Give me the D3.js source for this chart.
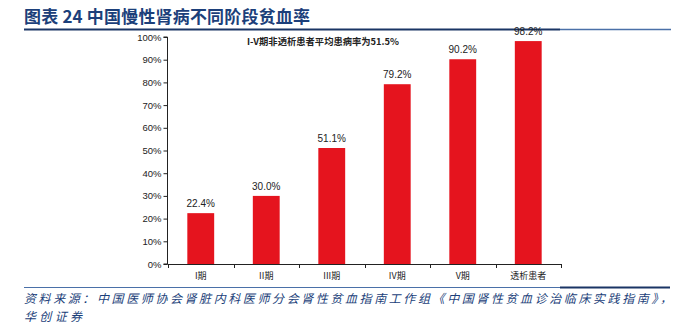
<!DOCTYPE html>
<html><head><meta charset="utf-8">
<script src="https://cdn.jsdelivr.net/npm/d3@7/dist/d3.min.js"></script>
<style>body{margin:0;background:#fff}svg{display:block}</style>
</head><body>
<svg id="c" width="684" height="325"></svg>
<script>
const categories = ["I期","II期","III期","IV期","V期","透析患者"];
const values = [22.4, 30.0, 51.1, 79.2, 90.2, 98.2];
const yTicks = [0,10,20,30,40,50,60,70,80,90,100];
const title = "图表 24  中国慢性肾病不同阶段贫血率";
const note = "I-V期非透析患者平均患病率为51.5%";
const source1 = "资料来源：中国医师协会肾脏内科医师分会肾性贫血指南工作组《中国肾性贫血诊治临床实践指南》，";
const source2 = "华创证券";

const svg = d3.select("#c");
const font = "'Noto Sans CJK SC','Noto Sans',sans-serif";
const navy = "#1c3f7a";

// header
svg.append("text").attr("x",24).attr("y",23).attr("fill",navy)
  .attr("font-family",font).attr("font-weight","bold").attr("font-size",17)
  .attr("textLength",286).attr("lengthAdjust","spacing").text(title);
svg.append("line").attr("x1",24).attr("x2",560).attr("y1",29.5).attr("y2",29.5).attr("stroke","#1a3565").attr("stroke-width",2);
svg.append("line").attr("x1",560).attr("x2",671).attr("y1",29.5).attr("y2",29.5).attr("stroke","#4a70a8").attr("stroke-width",1.3);

// footer
svg.append("line").attr("x1",24).attr("x2",560).attr("y1",287.5).attr("y2",287.5).attr("stroke","#4a70a8").attr("stroke-width",1);
svg.append("line").attr("x1",560).attr("x2",670).attr("y1",287.5).attr("y2",287.5).attr("stroke","#1a3565").attr("stroke-width",2);
svg.append("text").attr("x",24).attr("y",303).attr("fill",navy).attr("font-family",font)
  .attr("font-style","italic").attr("font-size",12).attr("textLength",648).attr("lengthAdjust","spacing").text(source1);
svg.append("text").attr("x",24).attr("y",321).attr("fill",navy).attr("font-family",font)
  .attr("font-style","italic").attr("font-size",12).attr("textLength",58).attr("lengthAdjust","spacing").text(source2);

// scales
const x = d3.scaleBand().domain(categories).range([168,561]).paddingInner(0.59).paddingOuter(0.295);
const y = d3.scaleLinear().domain([0,100]).range([264,37]);

// y axis
const ya = svg.append("g").attr("transform","translate(167.5,0)")
  .call(d3.axisLeft(y).tickValues(yTicks).tickSize(4).tickPadding(2).tickFormat(d=>d+"%"));
ya.select(".domain").attr("stroke","#222").attr("d","M-4,"+y(100)+"H0V"+y(0)+"H-4");
ya.selectAll(".tick line").attr("stroke","#222");
ya.selectAll(".tick text").attr("font-family","'Liberation Sans',Arial,sans-serif").attr("font-size",9.5).attr("fill","#222");

// x axis
const step = x.step();
svg.append("line").attr("x1",167.5).attr("x2",561).attr("y1",264.5).attr("y2",264.5).attr("stroke","#222");
const bounds = categories.map(c => x(c) - step*x.paddingInner()/2).concat([x(categories[categories.length-1]) + x.bandwidth() + step*x.paddingInner()/2]);
svg.selectAll(".xt").data(bounds).enter().append("line")
  .attr("x1",d=>Math.round(d)+0.5).attr("x2",d=>Math.round(d)+0.5).attr("y1",264).attr("y2",268).attr("stroke","#222");
svg.selectAll(".xl").data(categories).enter().append("text")
  .attr("x",d=>x(d)+x.bandwidth()/2).attr("y",279).attr("text-anchor","middle")
  .attr("font-family",font).attr("font-size",9).attr("fill","#222").text(d=>d);

// bars
svg.selectAll(".bar").data(values).enter().append("rect")
  .attr("x",(d,i)=>x(categories[i])).attr("width",x.bandwidth())
  .attr("y",d=>y(d)).attr("height",d=>y(0)-y(d)).attr("fill","#e5141e");
svg.selectAll(".vl").data(values).enter().append("text")
  .attr("x",(d,i)=>x(categories[i])+x.bandwidth()/2).attr("y",d=>y(d)-6).attr("text-anchor","middle")
  .attr("font-family","'Liberation Sans',Arial,sans-serif").attr("font-size",10).attr("fill","#222")
  .text(d=>d.toFixed(1)+"%");

// annotation
svg.append("text").attr("x",247).attr("y",45).attr("font-family",font).attr("font-weight","bold")
  .attr("font-size",9.3).attr("fill","#222").text(note);
</script>
</body></html>
